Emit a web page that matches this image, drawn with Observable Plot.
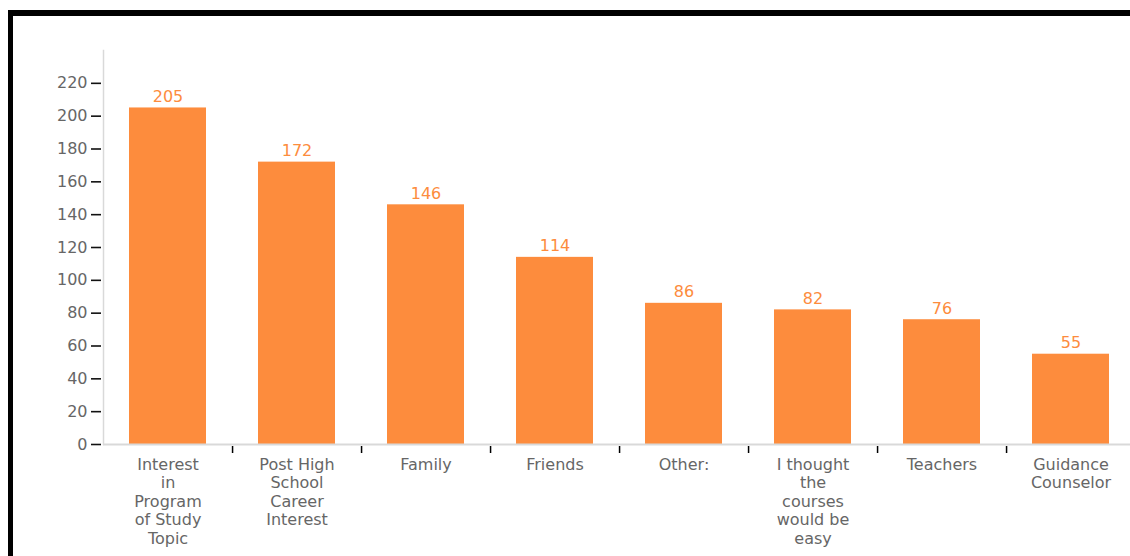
<!DOCTYPE html>
<html>
<head>
<meta charset="utf-8">
<script src="https://cdn.jsdelivr.net/npm/d3@7"></script>
<script src="https://cdn.jsdelivr.net/npm/@observablehq/plot@0.6"></script>
<style>
  html, body { margin: 0; padding: 0; background: #fff; overflow: hidden; width: 1130px; height: 556px; }
  #frame { position: absolute; left: 8px; top: 10px; width: 1200px; height: 600px;
           border-top: 6px solid #000; border-left: 5px solid #000; }
  #chart { position: absolute; left: 0; top: 0; width: 1140px; height: 556px; }
  #chart svg { max-width: none !important; }
</style>
</head>
<body>
<div id="frame"></div>
<div id="chart"></div>
<script>
const categories = [
  "Interest in Program of Study Topic",
  "Post High School Career Interest",
  "Family",
  "Friends",
  "Other:",
  "I thought the courses would be easy",
  "Teachers",
  "Guidance Counselor"
];
const tickLabels = [
  "Interest\nin\nProgram\nof Study\nTopic",
  "Post High\nSchool\nCareer\nInterest",
  "Family",
  "Friends",
  "Other:",
  "I thought\nthe\ncourses\nwould be\neasy",
  "Teachers",
  "Guidance\nCounselor"
];
const values = [205, 172, 146, 114, 86, 82, 76, 55];
const yTicks = [0, 20, 40, 60, 80, 100, 120, 140, 160, 180, 200, 220];

const data = categories.map((c, i) => ({category: c, value: values[i]}));
const labelOf = new Map(categories.map((c, i) => [c, tickLabels[i]]));

const W = 1140, H = 556, mL = 103, mR = 4, mT = 50, mB = 112;
const padIn = 0.4, padOut = 0.2;
const step = (W - mL - mR) / (categories.length - padIn + 2 * padOut);

const orange = "#fd8c3d";
const gray = "#666666";
const font = "'DejaVu Sans', sans-serif";

const chart = Plot.plot({
  width: W, height: H,
  marginLeft: mL, marginRight: mR, marginTop: mT, marginBottom: mB,
  style: {fontFamily: font, background: "transparent", overflow: "visible", maxWidth: "none"},
  x: {domain: categories, paddingInner: padIn, paddingOuter: padOut, axis: null, label: null},
  y: {domain: [0, 240], axis: null, label: null},
  marks: [
    Plot.barY(data, {x: "category", y: "value", fill: orange}),
    Plot.frame({anchor: "left", stroke: "#d9d9d9", strokeWidth: 1.5}),
    Plot.ruleY([0], {stroke: "#d9d9d9", strokeWidth: 2}),
    Plot.axisY({ticks: yTicks, tickSize: 10, dx: -2, color: "#111", strokeWidth: 1.6, label: null, tickFormat: () => ""}),
    Plot.axisY({ticks: yTicks, tickSize: 0, tickPadding: 16, fontSize: 16, color: gray, label: null, tickFormat: d => d}),
    Plot.ruleX(categories.slice(0, -1), {x: d => d, dx: step / 2, y1: 0, y2: 0, insetTop: 2, insetBottom: -9, stroke: "#000", strokeWidth: 1.5}),
    Plot.axisX({tickSize: 0, tickPadding: 12, fontSize: 16, color: gray, label: null, lineHeight: 1.16, tickFormat: d => labelOf.get(d), textAnchor: "middle"}),
    Plot.text(data, {x: "category", y: "value", text: d => String(d.value), dy: -11, fill: orange, fontSize: 16, lineAnchor: "middle"})
  ]
});
document.getElementById("chart").appendChild(chart);
</script>
</body>
</html>
